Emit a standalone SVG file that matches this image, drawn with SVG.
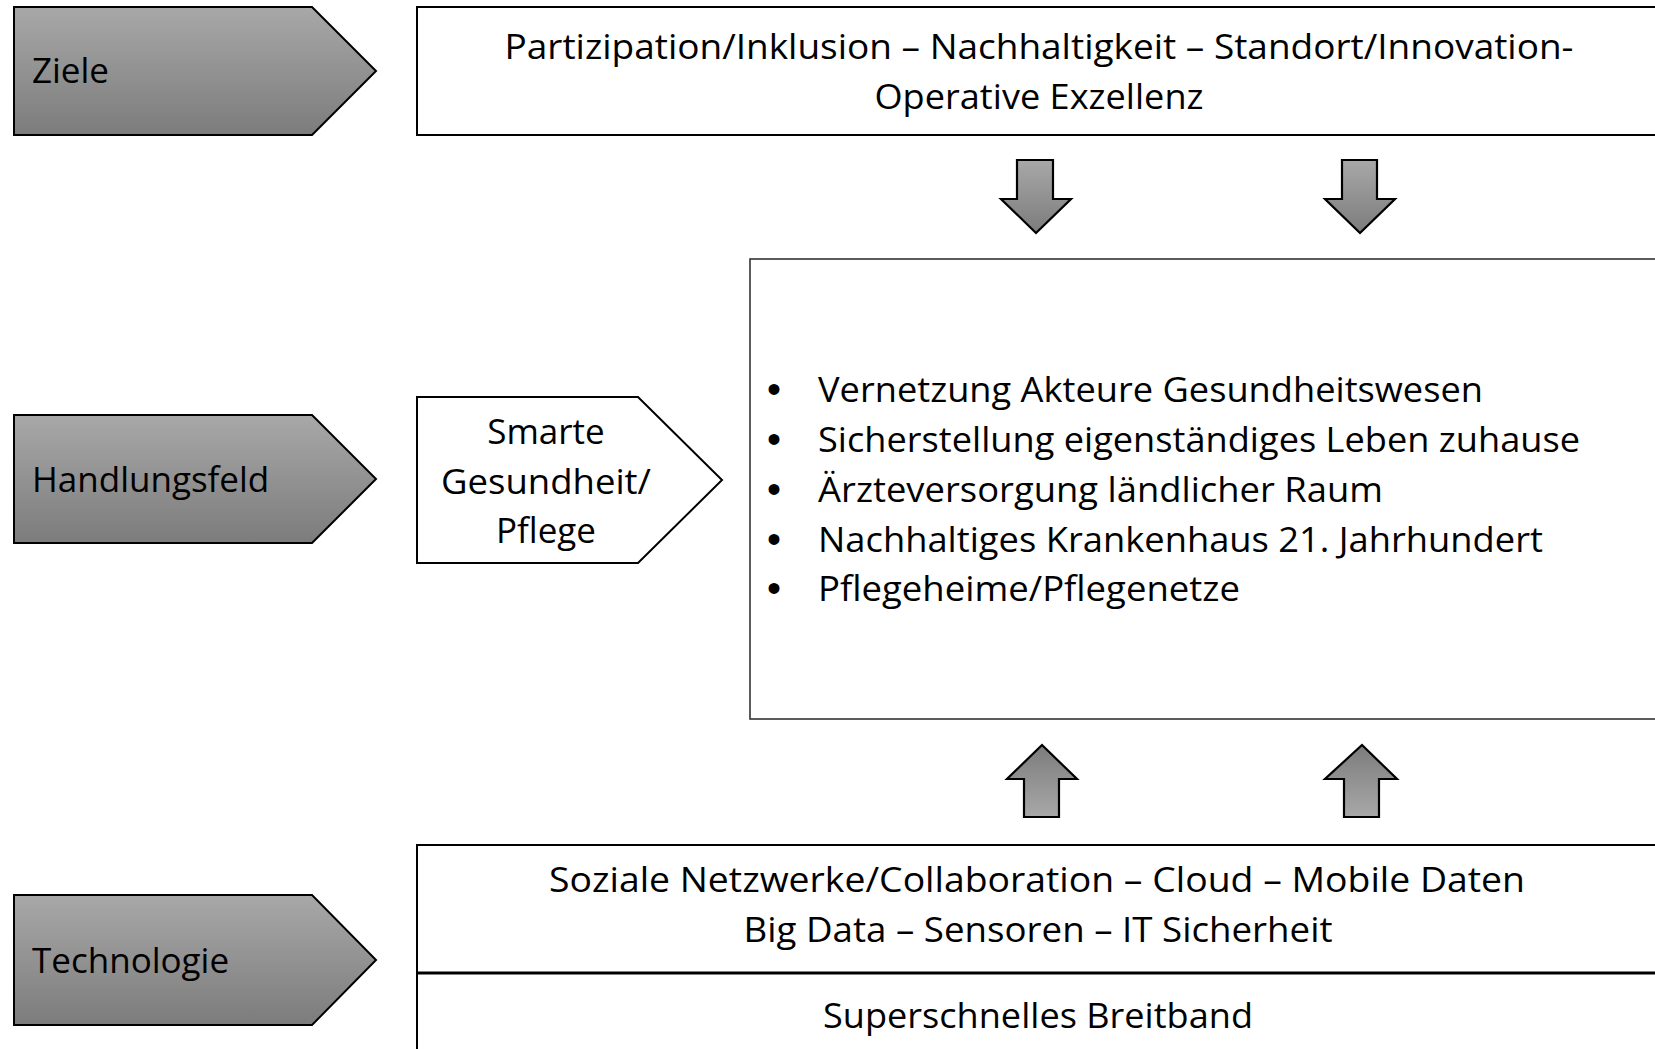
<svg xmlns="http://www.w3.org/2000/svg" width="1655" height="1049" viewBox="0 0 1655 1049">
<style>
text{font-family:"Open Sans","Liberation Sans",sans-serif;font-size:35px;fill:#000}
.c{text-anchor:middle}
.b{font-family:"Liberation Sans",sans-serif;font-size:40px;text-anchor:middle}
.tag{stroke:#000;stroke-width:2;stroke-linejoin:miter}
.box{fill:#fff;stroke:#000;stroke-width:2}
.arr{stroke:#000;stroke-width:2.2;stroke-linejoin:miter}
</style>
<defs>
<linearGradient id="gDown" x1="0" y1="0" x2="0" y2="1">
<stop offset="0" stop-color="#a8a8a8"/>
<stop offset="1" stop-color="#7c7c7c"/>
</linearGradient>
<linearGradient id="gUp" x1="0" y1="0" x2="0" y2="1">
<stop offset="0" stop-color="#7c7c7c"/>
<stop offset="1" stop-color="#a8a8a8"/>
</linearGradient>
</defs>
<rect width="1655" height="1049" fill="#fff"/>

<g id="ziele">
<path class="tag" fill="url(#gDown)" d="M14,7 H312 L376,71 L312,135 H14 Z"/>
<text x="32" y="83">Ziele</text>
</g>

<g id="handlungsfeld">
<path class="tag" fill="url(#gDown)" d="M14,415 H312 L376,479 L312,543 H14 Z"/>
<text x="32" y="492">Handlungsfeld</text>
</g>

<g id="technologie">
<path class="tag" fill="url(#gDown)" d="M14,895 H312 L376,960 L312,1025 H14 Z"/>
<text x="32" y="973">Technologie</text>
</g>

<g id="ziele-box">
<rect class="box" x="417" y="7" width="1250" height="128"/>
<text class="c" x="1039" y="59" textLength="1069" lengthAdjust="spacingAndGlyphs">Partizipation/Inklusion – Nachhaltigkeit – Standort/Innovation-</text>
<text class="c" x="1039" y="109" textLength="329" lengthAdjust="spacingAndGlyphs">Operative Exzellenz</text>
</g>

<g id="smarte-gesundheit">
<path class="tag" fill="#fff" d="M417,397 H638 L722,480 L638,563 H417 Z"/>
<text class="c" x="546" y="444">Smarte</text>
<text class="c" x="546" y="494" textLength="210" lengthAdjust="spacingAndGlyphs">Gesundheit/</text>
<text class="c" x="546" y="543">Pflege</text>
</g>

<g id="massnahmen-box">
<rect x="750" y="259" width="920" height="460" fill="#fff" stroke="#333" stroke-width="1.6"/>
<text class="b" x="774" y="403">•</text>
<text x="818" y="402" textLength="665" lengthAdjust="spacingAndGlyphs">Vernetzung Akteure Gesundheitswesen</text>
<text class="b" x="774" y="453">•</text>
<text x="818" y="452" textLength="762" lengthAdjust="spacingAndGlyphs">Sicherstellung eigenständiges Leben zuhause</text>
<text class="b" x="774" y="503">•</text>
<text x="818" y="502" textLength="565" lengthAdjust="spacingAndGlyphs">Ärzteversorgung ländlicher Raum</text>
<text class="b" x="774" y="553">•</text>
<text x="818" y="552" textLength="725" lengthAdjust="spacingAndGlyphs">Nachhaltiges Krankenhaus 21. Jahrhundert</text>
<text class="b" x="774" y="602">•</text>
<text x="818" y="601" textLength="422" lengthAdjust="spacingAndGlyphs">Pflegeheime/Pflegenetze</text>
</g>

<g id="technologie-box">
<rect class="box" x="417" y="845" width="1250" height="220"/>
<line x1="417" y1="973" x2="1655" y2="973" stroke="#000" stroke-width="3"/>
<text class="c" x="1037" y="892" textLength="976" lengthAdjust="spacingAndGlyphs">Soziale Netzwerke/Collaboration  – Cloud – Mobile Daten</text>
<text class="c" x="1038" y="942" textLength="589" lengthAdjust="spacingAndGlyphs">Big Data – Sensoren – IT Sicherheit</text>
<text class="c" x="1038" y="1028" textLength="430" lengthAdjust="spacingAndGlyphs">Superschnelles Breitband</text>
</g>

<g id="connectors">
<path class="arr" fill="url(#gDown)" d="M1017,160 H1053 V199 H1071 L1036,233 L1001,199 H1017 Z"/>
<path class="arr" fill="url(#gDown)" d="M1342,160 H1377 V199 H1395 L1360,233 L1325,199 H1342 Z"/>
<path class="arr" fill="url(#gUp)" d="M1024,817 H1059 V779 H1077 L1042,745 L1007,779 H1024 Z"/>
<path class="arr" fill="url(#gUp)" d="M1344,817 H1379 V779 H1397 L1362,745 L1325,779 H1344 Z"/>
</g>
</svg>
